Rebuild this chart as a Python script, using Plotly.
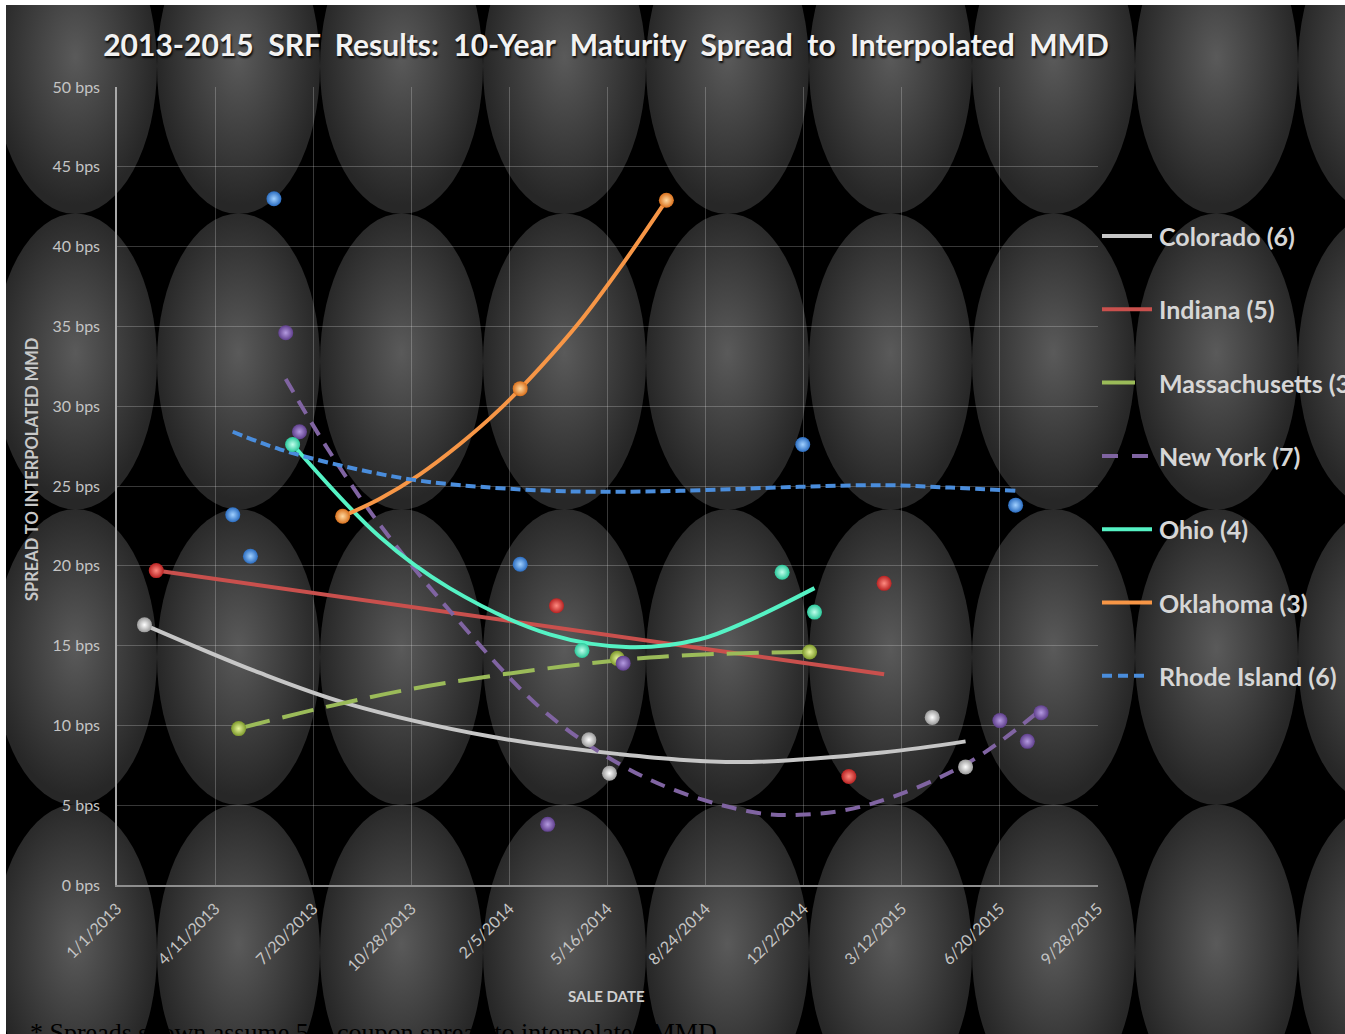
import base64
import plotly.graph_objects as go

# ---------------------------------------------------------------- data
# Individual SRF sales: sale date and 10-year spread to interpolated MMD (bps)
colorado_dates = ["2013-01-29", "2014-04-27", "2014-05-18", "2015-04-12", "2015-05-16"]
colorado_bps = [16.3, 9.1, 7.0, 10.5, 7.4]

indiana_dates = ["2013-02-10", "2014-03-25", "2015-01-17", "2015-02-22"]
indiana_bps = [19.7, 17.5, 6.8, 18.9]

massachusetts_dates = ["2013-05-05", "2014-05-26", "2014-12-08"]
massachusetts_bps = [9.8, 14.2, 14.6]

new_york_dates = ["2013-06-22", "2013-07-06", "2014-03-16", "2014-06-01",
                  "2015-06-20", "2015-07-18", "2015-08-01"]
new_york_bps = [34.6, 28.4, 3.8, 13.9, 10.3, 9.0, 10.8]

ohio_dates = ["2013-06-29", "2014-04-20", "2014-11-10", "2014-12-13"]
ohio_bps = [27.6, 14.7, 19.6, 17.1]

oklahoma_dates = ["2013-08-19", "2014-02-16", "2014-07-15"]
oklahoma_bps = [23.1, 31.1, 42.9]

rhode_island_dates = ["2013-04-29", "2013-05-17", "2013-06-10", "2014-02-16",
                      "2014-12-01", "2015-07-06"]
rhode_island_bps = [23.2, 20.6, 43.0, 20.1, 27.6, 23.8]

# Trend lines (sampled along each state's fitted curve)
colorado_trend_dates = ["2013-01-29", "2013-05-26", "2013-08-22", "2014-01-17",
                        "2014-05-28", "2014-09-28", "2015-02-20", "2015-05-16"]
colorado_trend_bps = [16.3, 13.3, 11.4, 9.3, 8.2, 7.7, 8.3, 9.0]

indiana_trend_dates = ["2013-02-10", "2015-02-22"]
indiana_trend_bps = [19.7, 13.2]

massachusetts_trend_dates = ["2013-05-05", "2013-08-16", "2013-12-06", "2014-06-28", "2014-12-08"]
massachusetts_trend_bps = [9.8, 11.35, 12.7, 14.25, 14.6]

new_york_trend_dates = ["2013-06-22", "2013-08-02", "2013-09-22", "2013-12-06", "2014-03-18",
                        "2014-06-28", "2014-10-08", "2014-11-28", "2015-02-04", "2015-05-17",
                        "2015-08-01"]
new_york_trend_bps = [31.7, 27.5, 22.9, 17.2, 10.6, 6.6, 4.6, 4.4, 5.0, 7.6, 11.0]

ohio_trend_dates = ["2013-06-29", "2013-09-26", "2013-12-06", "2014-03-18",
                    "2014-06-08", "2014-08-18", "2014-10-08", "2014-12-13"]
ohio_trend_bps = [27.6, 21.8, 18.6, 15.7, 14.9, 15.4, 16.6, 18.6]

oklahoma_trend_dates = ["2013-08-19", "2013-09-26", "2013-11-05", "2013-12-16", "2014-01-26",
                        "2014-03-08", "2014-04-18", "2014-05-28", "2014-07-15"]
oklahoma_trend_bps = [23.1, 24.2, 25.7, 27.6, 29.8, 32.4, 35.3, 38.6, 42.9]

rhode_island_trend_dates = ["2013-04-29", "2013-06-16", "2013-08-23", "2013-10-29", "2014-01-06",
                            "2014-04-18", "2014-07-29", "2014-11-28", "2015-02-23", "2015-04-30",
                            "2015-07-06"]
rhode_island_trend_bps = [28.4, 27.3, 26.2, 25.4, 24.95, 24.65, 24.7, 24.95, 25.05, 24.9, 24.7]

legend_labels = ["Colorado (6)", "Indiana (5)", "Massachusetts (3)", "New York (7)",
                 "Ohio (4)", "Oklahoma (3)", "Rhode Island (6)"]

x_tick_dates = ["2013-01-01", "2013-04-11", "2013-07-20", "2013-10-28", "2014-02-05",
                "2014-05-16", "2014-08-24", "2014-12-02", "2015-03-12", "2015-06-20",
                "2015-09-28"]
x_tick_labels = ["1/1/2013", "4/11/2013", "7/20/2013", "10/28/2013", "2/5/2014",
                 "5/16/2014", "8/24/2014", "12/2/2014", "3/12/2015", "6/20/2015",
                 "9/28/2015"]
y_tick_values = [0, 5, 10, 15, 20, 25, 30, 35, 40, 45, 50]
y_tick_labels = ["0 bps", "5 bps", "10 bps", "15 bps", "20 bps", "25 bps",
                 "30 bps", "35 bps", "40 bps", "45 bps", "50 bps"]

# ---------------------------------------------------------------- styling
W, H = 1345, 1034
ML, MR, MT, MB = 117, 247, 87, 149
PW, PH = W - ML - MR, H - MT - MB
FONT = "Lato"


def px_x(px):
    return (px - ML) / PW


def px_y(py):
    return (H - MB - py) / PH


series = [
    # name, dates, values, trend dates, trend values, line colour, dash, marker edge, marker centre, shape
    ("Colorado", colorado_dates, colorado_bps, colorado_trend_dates, colorado_trend_bps,
     "#c6c6c6", "solid", "#9a9a9a", "#ffffff", "spline"),
    ("Indiana", indiana_dates, indiana_bps, indiana_trend_dates, indiana_trend_bps,
     "#c9504d", "solid", "#b82222", "#ff8a80", "linear"),
    ("Massachusetts", massachusetts_dates, massachusetts_bps, massachusetts_trend_dates,
     massachusetts_trend_bps, "#9bbb59", "32px,13px", "#7e9a2c", "#e6f59a", "spline"),
    ("New York", new_york_dates, new_york_bps, new_york_trend_dates, new_york_trend_bps,
     "#8064a2", "15px,10px", "#5f3f8c", "#b49ae0", "spline"),
    ("Ohio", ohio_dates, ohio_bps, ohio_trend_dates, ohio_trend_bps,
     "#55f2c4", "solid", "#2ac89a", "#c0ffec", "spline"),
    ("Oklahoma", oklahoma_dates, oklahoma_bps, oklahoma_trend_dates, oklahoma_trend_bps,
     "#f79646", "solid", "#d9701c", "#ffd9a0", "spline"),
    ("Rhode Island", rhode_island_dates, rhode_island_bps, rhode_island_trend_dates,
     rhode_island_trend_bps, "#4a8ddc", "10px,5px", "#2a6cc0", "#a0d0ff", "spline"),
]

fig = go.Figure()

for name, d, v, td, tv, lc, dash, mc, hc, shape in series:
    fig.add_trace(go.Scatter(
        x=td, y=tv, mode="lines", name=name, showlegend=False, hoverinfo="skip",
        line=dict(color=lc, width=4, dash=dash, shape=shape, smoothing=1.0),
    ))

for name, d, v, td, tv, lc, dash, mc, hc, shape in series:
    fig.add_trace(go.Scatter(
        x=d, y=v, mode="markers", name=name, showlegend=False,
        marker=dict(size=15, color=mc, line=dict(width=0),
                    gradient=dict(type="radial", color=hc)),
    ))

# Background: black panel covered with soft grey ellipses
bx0, by0 = 6, 5
bw, bh = W - bx0, H - by0
svg = [f'<svg xmlns="http://www.w3.org/2000/svg" width="{bw}" height="{bh}" viewBox="0 0 {bw} {bh}">',
       '<defs><radialGradient id="g" cx="50%" cy="47%" r="50%">',
       '<stop offset="0%" stop-color="#5a5a5a"/>',
       '<stop offset="55%" stop-color="#3e3e3e"/>',
       '<stop offset="100%" stop-color="#272727"/>',
       '</radialGradient></defs>',
       f'<rect x="0" y="0" width="{bw}" height="{bh}" fill="#000000"/>']
for row in range(4):
    for col in range(9):
        cx = 75.5 + 163 * col - bx0
        cy = 66 + 295.5 * row - by0
        svg.append(f'<ellipse cx="{cx:.1f}" cy="{cy:.1f}" rx="81.5" ry="148" fill="url(#g)"/>')
svg.append('</svg>')
svg_uri = "data:image/svg+xml;base64," + base64.b64encode("".join(svg).encode()).decode()

fig.add_layout_image(dict(
    source=svg_uri, xref="paper", yref="paper",
    x=px_x(bx0), y=px_y(by0), sizex=bw / PW, sizey=bh / PH,
    xanchor="left", yanchor="top", sizing="stretch", layer="below",
))

# Custom legend: line sample + label
legend_y = [236, 309.3, 382.6, 455.9, 529.2, 602.5, 675.8]
legend_len = [50, 50, 33, 46, 50, 50, 46]
legend_dash = ["solid", "solid", "solid", "16px,14px", "solid", "solid", "10px,6px"]
for (name, d, v, td, tv, lc, dash, mc, hc, shape), label, ly, ll, ld in zip(
        series, legend_labels, legend_y, legend_len, legend_dash):
    fig.add_shape(type="line", xref="paper", yref="paper",
                  x0=px_x(1102), x1=px_x(1102 + ll), y0=px_y(ly), y1=px_y(ly),
                  line=dict(color=lc, width=4, dash=ld))
    fig.add_annotation(x=px_x(1157), y=px_y(ly), xref="paper", yref="paper",
                       text=label, showarrow=False, xanchor="left", yanchor="middle",
                       font=dict(family=FONT, size=25, color="#d6d6d6", weight="bold"))

sp = "\u00a0 "
title_text = sp.join(["2013-2015", "SRF", "Results:", "10-Year", "Maturity", "Spread",
                      "to", "Interpolated", "MMD"])

fig.add_annotation(x=px_x(32), y=px_y(470), xref="paper", yref="paper",
                   text="SPREAD TO INTERPOLATED MMD", textangle=-90, showarrow=False,
                   xanchor="center", yanchor="middle",
                   font=dict(family=FONT, size=16.5, color="#c8c8c8", weight="bold"))
fig.add_annotation(x=px_x(606), y=px_y(996), xref="paper", yref="paper",
                   text="SALE DATE", showarrow=False, xanchor="center", yanchor="middle",
                   font=dict(family=FONT, size=15, color="#cfcfcf", weight="bold"))
fig.add_annotation(x=px_x(28), y=px_y(1032), xref="paper", yref="paper",
                   text="* Spreads shown assume 5% coupon spread to interpolated MMD",
                   showarrow=False, xanchor="left", yanchor="middle",
                   font=dict(family="Liberation Serif", size=26, color="#000000"))

fig.update_layout(
    width=W, height=H,
    margin=dict(l=ML, r=MR, t=MT, b=MB, autoexpand=False),
    paper_bgcolor="#ffffff",
    plot_bgcolor="rgba(0,0,0,0)",
    showlegend=False,
    title=dict(text=title_text, x=px_x(606), xref="paper", xanchor="center",
               y=1 - 45 / H, yref="container", yanchor="middle",
               font=dict(family=FONT, size=30, color="#f2f2f2", weight="bold",
                         shadow="1px 2px 2px rgba(0,0,0,0.9)")),
    xaxis=dict(type="date", range=["2013-01-01", "2015-09-28"],
               tickvals=x_tick_dates, ticktext=x_tick_labels, tickangle=-45,
               tickfont=dict(family=FONT, size=16, color="#c4c4c4"),
               showgrid=True, gridcolor="rgba(255,255,255,0.22)", gridwidth=1,
               showline=True, linecolor="#8e8e8e", linewidth=2,
               zeroline=False, ticks="", ticklabelstandoff=6),
    yaxis=dict(range=[0, 50], tickvals=y_tick_values, ticktext=y_tick_labels,
               tickfont=dict(family=FONT, size=16, color="#c4c4c4"),
               showgrid=True, gridcolor="rgba(255,255,255,0.22)", gridwidth=1,
               showline=True, linecolor="#a8a8a8", linewidth=1.5,
               zeroline=False, ticks="", ticklabelstandoff=12),
)

fig.write_html("out.html")
